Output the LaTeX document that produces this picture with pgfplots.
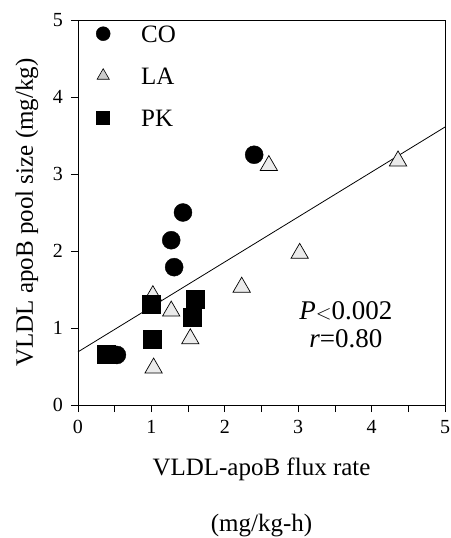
\documentclass[border=0pt]{standalone}
\usepackage{pgfplots}
\pgfplotsset{compat=1.18}
\usepackage{fontspec}
\setmainfont{Liberation Serif}
\begin{document}
\begin{tikzpicture}
\useasboundingbox (-78pt,-133pt) rectangle (372pt,405pt);
\begin{axis}[
  scale only axis,
  width=367pt, height=385pt,
  xmin=0, xmax=5, ymin=0, ymax=5,
  xtick={0,1,2,3,4,5},
  minor xtick={0.5,1.5,2.5,3.5,4.5},
  ytick={0,1,2,3,4,5},
  tick align=outside,
  major tick length=7pt, minor tick length=7pt,
  xtick pos=bottom, ytick pos=left,
  axis line style={line width=0.8pt},
  tick style={line width=0.8pt, black},
  xticklabel={\fontsize{20}{22}\selectfont\pgfmathprintnumber[assume math mode=true]{\tick}},
  yticklabel={\fontsize{20}{22}\selectfont\pgfmathprintnumber[assume math mode=true]{\tick}},
  xticklabel style={inner sep=0pt, anchor=north, yshift=-8pt},
  yticklabel style={inner sep=0pt, anchor=east, xshift=-8pt},
  xlabel={VLDL-apoB flux rate\\[26pt](mg/kg-h)},
  xlabel style={align=center, font=\fontsize{25}{30}\selectfont, at={(axis description cs:0.5,0)}, anchor=north, inner sep=0pt, yshift=-53pt},
  ylabel={VLDL apoB pool size (mg/kg)},
  ylabel style={font=\fontsize{25}{30}\selectfont, at={(axis description cs:-0.139,0.5)}, anchor=center, inner sep=0pt},
  legend style={draw=none, fill=none, inner sep=0pt, at={(axis description cs:0,1)}, anchor=north west, xshift=16pt, yshift=-5pt,
    font=\fontsize{25}{30}\selectfont, row sep=25pt, nodes={inner sep=0pt, text height=17pt, text depth=0pt}},
  legend cell align=left,
  legend image code/.code={\draw[#1] plot coordinates {(0pt,0pt)}; \path[draw=none, fill=none] (-9pt,-0.1pt) rectangle (38pt,0.1pt);},
]
\addlegendimage{only marks, mark=*, mark size=7pt, mark options={fill=black, draw=black}}
\addlegendentry{CO}
\addlegendimage{only marks, mark=triangle*, mark size=7pt, mark options={fill=black!20, draw=black, line width=0.6pt}}
\addlegendentry{LA}
\addlegendimage{only marks, mark=square*, mark size=6.5pt, mark options={fill=black, draw=black}}
\addlegendentry{PK}

\addplot[forget plot, black, line width=0.8pt] coordinates {(0,0.69) (5,3.61)};

\addplot[forget plot, only marks, mark=triangle*, mark size=10pt, mark options={fill=black!8, draw=black, line width=0.7pt}] coordinates {
(2.60,3.11) (4.36,3.17) (3.02,1.97) (2.23,1.53) (1.27,1.22) (1.02,1.42) (1.53,0.86) (1.03,0.48)
};
\addplot[forget plot, only marks, mark=*, mark size=9pt, mark options={fill=black, draw=black}] coordinates {
(0.53,0.65) (1.31,1.79) (1.27,2.14) (1.43,2.50) (2.40,3.25)
};
\addplot[forget plot, only marks, mark=square*, mark size=9pt, mark options={fill=black, draw=black}] coordinates {
(0.39,0.66) (1.01,0.86) (1.00,1.31) (1.60,1.38) (1.55,1.14)
};

\node[align=center, font=\fontsize{27}{28}\selectfont] at (axis cs:3.65,1.04) {\textit{P}{\fontsize{22}{22}\selectfont$<$}0.002\\\textit{r}=0.80};
\end{axis}
\end{tikzpicture}
\end{document}
